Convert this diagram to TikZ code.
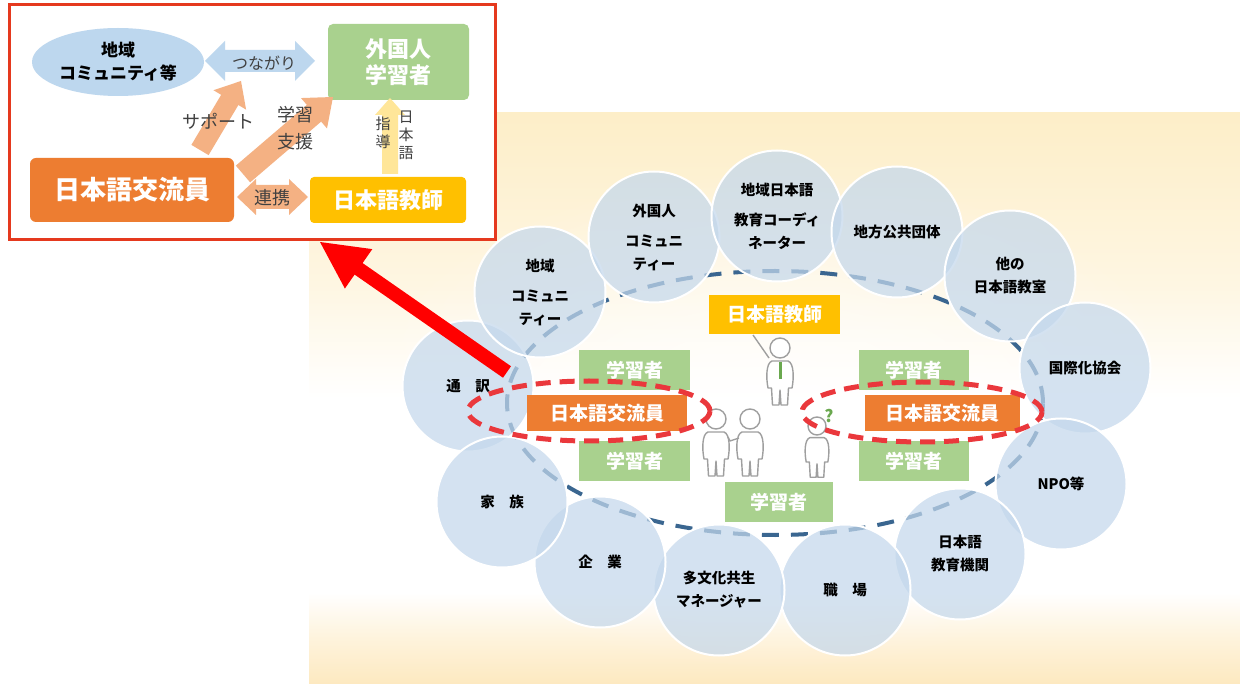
\documentclass[tikz,border=0pt]{standalone}
\usepackage{fontspec}
\setmainfont{Noto Sans CJK JP}
\newfontfamily\jp{Noto Sans CJK JP}
\usetikzlibrary{calc,shapes.geometric,fadings}

\definecolor{insetred}{RGB}{229,57,30}
\definecolor{comblue}{RGB}{189,215,238}
\definecolor{lrngreen}{RGB}{169,209,142}
\definecolor{xchorange}{RGB}{237,125,49}
\definecolor{tchyellow}{RGB}{255,192,0}
\definecolor{peach}{RGB}{244,177,131}
\definecolor{paleyellow}{RGB}{255,230,153}
\definecolor{bubble}{RGB}{196,216,236}
\definecolor{ringblue}{RGB}{58,102,144}
\definecolor{ringred}{RGB}{234,56,60}
\definecolor{creamT}{RGB}{253,238,200}
\definecolor{creamL}{RGB}{254,246,226}
\definecolor{creamM}{RGB}{254,243,220}
\definecolor{creamB}{RGB}{253,233,192}
\definecolor{txtgray}{RGB}{64,64,64}
\definecolor{qgreen}{RGB}{106,168,79}

\pgfdeclareverticalshading{panel}{100bp}{%
  color(0bp)=(creamB); color(25bp)=(creamB); color(29bp)=(creamM);
  color(33bp)=(white); color(50bp)=(white); color(60bp)=(creamL);
  color(75bp)=(creamT); color(100bp)=(creamT)}
\tikzfading[name=glow, inner color=transparent!0, outer color=transparent!100]

% single block arrow: style, tail, tip, shaft half width, head half width, head length
\newcommand{\blockarrow}[6]{%
  \coordinate (ba-h) at ($(#3)!#6!(#2)$);
  \fill[#1] ($(#2)!#4!90:(#3)$) -- ($(ba-h)!#4!90:(#3)$) -- ($(ba-h)!#5!90:(#3)$)
    -- (#3) -- ($(ba-h)!#5!-90:(#3)$) -- ($(ba-h)!#4!-90:(#3)$)
    -- ($(#2)!#4!-90:(#3)$) -- cycle;}
% double block arrow: style, end A, end B, shaft half width, head half width, head length
\newcommand{\dblarrow}[6]{%
  \coordinate (da-a) at ($(#2)!#6!(#3)$);
  \coordinate (da-b) at ($(#3)!#6!(#2)$);
  \fill[#1] (#2) -- ($(da-a)!#5!90:(#3)$) -- ($(da-a)!#4!90:(#3)$)
    -- ($(da-b)!#4!-90:(#2)$) -- ($(da-b)!#5!-90:(#2)$) -- (#3)
    -- ($(da-b)!#5!90:(#2)$) -- ($(da-b)!#4!90:(#2)$)
    -- ($(da-a)!#4!-90:(#3)$) -- ($(da-a)!#5!-90:(#3)$) -- cycle;}

\tikzset{
  bub/.style={circle, minimum size=131, inner sep=0, fill=bubble, fill opacity=0.72,
    text opacity=1, draw=white, draw opacity=1, line width=2, align=center,
    font=\jp\bfseries\fontsize{14.5}{23}\selectfont},
  lbox/.style={fill=lrngreen, text=white, inner sep=0, minimum width=111, minimum height=40,
    font=\jp\bfseries\fontsize{19}{22}\selectfont},
  obox/.style={fill=xchorange, text=white, inner sep=0, minimum height=36,
    font=\jp\bfseries\fontsize{19}{22}\selectfont},
  ybox/.style={fill=tchyellow, text=white, inner sep=0,
    font=\jp\bfseries\fontsize{19}{22}\selectfont},
  redring/.style={ellipse, draw=ringred, line width=5, dash pattern=on 15pt off 9pt,
    minimum width=242, minimum height=60, inner sep=0},
  fig/.style={draw=gray!75, fill=white, line width=1.4, line join=round},
  lbl/.style={text=txtgray, inner sep=0, font=\jp\fontsize{18}{20}\selectfont},
  person/.pic={
    \draw[fig] (0,0) circle (10);
    \draw[fig] (-8,13) .. controls (-14,15) and (-14,30) .. (-12,40) -- (-8.5,40)
      -- (-7.5,57) -- (-1,57) -- (0,42) -- (1,57) -- (7.5,57) -- (8.5,40) -- (12,40)
      .. controls (14,30) and (14,15) .. (8,13) -- cycle;
  }
}

\begin{document}
\begin{tikzpicture}[x=1pt,y=-1pt]
\useasboundingbox (0,0) rectangle (1240,684);
\fill[white] (0,0) rectangle (1240,684);

% cream panel behind the network
\shade[shading=panel] (309,113) rectangle (1240,684);
\fill[white, path fading=glow, opacity=0.8] (775,420) ellipse [x radius=430, y radius=250];

% dashed ring of the local network
\node[ellipse, draw=ringblue, line width=4, dash pattern=on 17pt off 12pt,
  minimum width=536, minimum height=264, inner sep=0] (ring) at (775,403) {};

% surrounding partners
\node[bub] (c-tsuyaku) at (468,386) {通\quad 訳};
\node[bub] (c-chiiki) at (540,292) {地域\\[7pt]コミュニ\\ティー};
\node[bub] (c-gaikoku) at (654,237) {外国人\\[7pt]コミュニ\\ティー};
\node[bub] (c-coord) at (777,216) {地域日本語\\[7pt]教育コーディ\\ネーター};
\node[bub] (c-jichi) at (897,232) {地方公共団体};
\node[bub] (c-kyoshitsu) at (1010,276) {他の\\日本語教室};
\node[bub] (c-kokusai) at (1085,368) {国際化協会};
\node[bub] (c-npo) at (1061,484) {NPO等};
\node[bub] (c-kikan) at (960,554) {日本語\\教育機関};
\node[bub] (c-shokuba) at (845,590) {職\quad 場};
\node[bub] (c-tabunka) at (719,590) {多文化共生\\マネージャー};
\node[bub] (c-kigyo) at (600,562) {企\quad 業};
\node[bub] (c-kazoku) at (502,502) {家\quad 族};

% roles inside the ring
\node[ybox, minimum width=131, minimum height=39] (teacher) at (774.5,314.5) {日本語教師};
\node[lbox] (gL1) at (634.5,370) {学習者};
\node[lbox] (gL2) at (634.5,461) {学習者};
\node[lbox, minimum width=110] (gR1) at (914,370) {学習者};
\node[lbox, minimum width=110] (gR2) at (914,461) {学習者};
\node[lbox, minimum width=108] (gB) at (779,502) {学習者};
\node[obox, minimum width=160] (oL) at (607,413) {日本語交流員};
\node[obox, minimum width=155] (oR) at (942.5,413) {日本語交流員};

% people
\pic at (780,348) {person};
\draw[fig] (753,335) -- (769,358);
\fill[qgreen] (778.5,362) rectangle (781.5,379);
\pic at (716,419) {person};
\pic at (750,419) {person};
\draw[fig] (739,438) -- (730,441) -- (728,437);
\pic[scale=0.9] at (817,426) {person};
\node[text=qgreen, inner sep=0, font=\jp\bfseries\fontsize{17}{18}\selectfont] (qmark) at (829,416) {?};

\node[redring] (rL) at (589,411) {};
\node[redring, minimum width=240] (rR) at (922,412) {};

% summary panel
\node[draw=insetred, fill=white, line width=3, minimum width=486, minimum height=235, inner sep=0]
  (inset) at (252,122.5) {};
\node[ellipse, fill=comblue, minimum width=172, minimum height=68, inner sep=0, align=center,
  font=\jp\bfseries\fontsize{17}{23}\selectfont] (comm) at (118,62) {地域\\コミュニティ等};
\node[fill=lrngreen, rounded corners=5, minimum width=141, minimum height=76, inner sep=0,
  text=white, align=center, font=\jp\bfseries\fontsize{22}{26}\selectfont]
  (learner) at (398.5,62) {外国人\\学習者};
\node[fill=xchorange, rounded corners=6, minimum width=204, minimum height=64, inner sep=0,
  text=white, font=\jp\bfseries\fontsize{26}{30}\selectfont] (staff) at (132,190) {日本語交流員};
\node[fill=tchyellow, rounded corners=4, minimum width=156, minimum height=46, inner sep=0,
  text=white, font=\jp\bfseries\fontsize{22}{26}\selectfont] (tch) at (388,200) {日本語教師};

\coordinate (tsA) at (205,61);
\coordinate (tsB) at (315,61);
\dblarrow{comblue}{tsA}{tsB}{11pt}{20pt}{20pt}
\coordinate (rkA) at (237,197);
\coordinate (rkB) at (308,197);
\dblarrow{peach}{rkA}{rkB}{12pt}{18pt}{19pt}
\coordinate (spA) at (200,150);
\coordinate (spB) at (241,81);
\blockarrow{peach}{spA}{spB}{10pt}{19pt}{22pt}
\coordinate (gsA) at (243,174);
\coordinate (gsB) at (333,97);
\blockarrow{peach}{gsA}{gsB}{11pt}{20pt}{25pt}
\coordinate (sdA) at (390,174);
\coordinate (sdB) at (390,98);
\blockarrow{paleyellow}{sdA}{sdB}{8pt}{15pt}{17pt}

\node[lbl, font=\jp\fontsize{16}{18}\selectfont] (t-tsunagari) at (264,63) {つながり};
\node[lbl] (t-support) at (218,121) {サポート};
\node[lbl, align=center, font=\jp\fontsize{18}{27}\selectfont] (t-gakushu) at (295,128) {学習\\支援};
\node[lbl] (t-renkei) at (272,198) {連携};
\node[lbl, align=center, font=\jp\fontsize{15}{18}\selectfont] (t-shido) at (383,133) {指\\導};
\node[lbl, align=center, font=\jp\fontsize{15}{18}\selectfont] (t-nihongo) at (406,135) {日\\本\\語};

% pointer from the exchange staff to the summary panel
\coordinate (bigA) at (507,372);
\coordinate (bigB) at (320,242);
\blockarrow{red}{bigA}{bigB}{7pt}{24pt}{47pt}
\end{tikzpicture}
\end{document}
